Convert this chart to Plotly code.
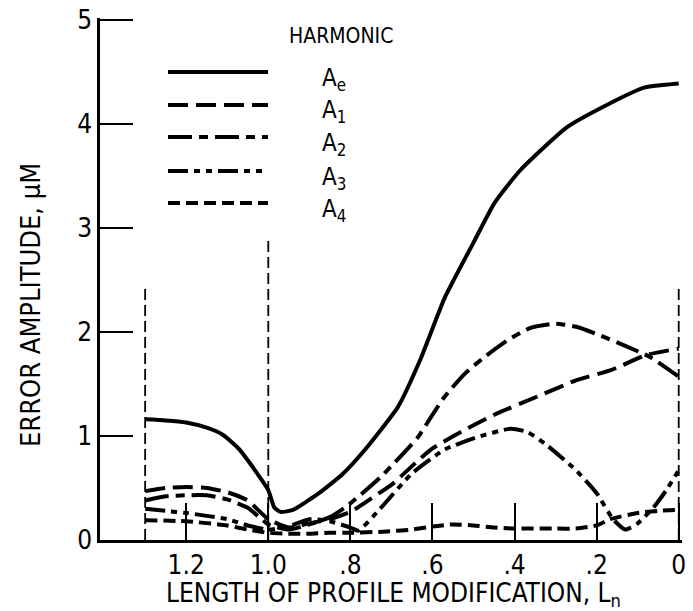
import plotly.graph_objects as go

# ---- data ----
ae_x = [1.30, 1.25, 1.20, 1.15, 1.11, 1.07, 1.045, 1.02, 1.00, 0.985, 0.97, 0.94, 0.88, 0.82, 0.764, 0.684, 0.63, 0.57, 0.50, 0.449, 0.385, 0.272, 0.167, 0.085, 0.0]
ae_y = [1.16, 1.15, 1.13, 1.08, 1.01, 0.87, 0.74, 0.60, 0.48, 0.31, 0.27, 0.29, 0.44, 0.63, 0.87, 1.28, 1.73, 2.33, 2.86, 3.24, 3.56, 3.97, 4.20, 4.35, 4.39]

a1_x = [1.30, 1.25, 1.20, 1.15, 1.10, 1.05, 1.00, 0.95, 0.90, 0.85, 0.80, 0.73, 0.70, 0.604, 0.521, 0.441, 0.344, 0.247, 0.167, 0.078, 0.0]
a1_y = [0.47, 0.50, 0.51, 0.50, 0.46, 0.38, 0.20, 0.12, 0.16, 0.20, 0.27, 0.45, 0.53, 0.87, 1.06, 1.22, 1.38, 1.54, 1.63, 1.78, 1.84]

a2_x = [1.30, 1.25, 1.20, 1.15, 1.10, 1.05, 1.00, 0.95, 0.90, 0.85, 0.81, 0.725, 0.635, 0.604, 0.57, 0.521, 0.473, 0.417, 0.361, 0.30, 0.25, 0.206, 0.126, 0.07, 0.0]
a2_y = [0.38, 0.42, 0.43, 0.43, 0.39, 0.31, 0.15, 0.10, 0.15, 0.22, 0.32, 0.61, 0.99, 1.18, 1.38, 1.60, 1.76, 1.92, 2.04, 2.08, 2.05, 1.99, 1.86, 1.76, 1.57]

a3_x = [1.30, 1.25, 1.20, 1.10, 1.05, 1.00, 0.95, 0.90, 0.85, 0.80, 0.78, 0.73, 0.65, 0.57, 0.49, 0.41, 0.37, 0.327, 0.25, 0.20, 0.16, 0.13, 0.10, 0.06, 0.03, 0.0]
a3_y = [0.30, 0.28, 0.26, 0.20, 0.14, 0.10, 0.13, 0.20, 0.18, 0.12, 0.09, 0.29, 0.64, 0.87, 0.99, 1.07, 1.04, 0.93, 0.67, 0.45, 0.20, 0.10, 0.16, 0.32, 0.48, 0.67]

a4_x = [1.30, 1.20, 1.10, 1.05, 1.00, 0.95, 0.90, 0.85, 0.80, 0.72, 0.65, 0.60, 0.55, 0.50, 0.45, 0.40, 0.30, 0.25, 0.20, 0.167, 0.10, 0.05, 0.0]
a4_y = [0.19, 0.18, 0.14, 0.10, 0.07, 0.06, 0.06, 0.07, 0.07, 0.08, 0.10, 0.13, 0.15, 0.14, 0.12, 0.11, 0.11, 0.11, 0.14, 0.20, 0.26, 0.28, 0.29]

boundary_x = [1.30, 1.00, 0.0]
boundary_top = [2.45, 2.88, 2.45]

x_tickvals = [1.2, 1.0, 0.8, 0.6, 0.4, 0.2, 0.0]
x_ticktext = ["1.2", "1.0", ".8", ".6", ".4", ".2", "0"]
y_tickvals = [0, 1, 2, 3, 4, 5]

series_names = ["A<sub>e</sub>", "A<sub>1</sub>", "A<sub>2</sub>", "A<sub>3</sub>", "A<sub>4</sub>"]
series_x = [ae_x, a1_x, a2_x, a3_x, a4_x]
series_y = [ae_y, a1_y, a2_y, a3_y, a4_y]

# ---- styles ----
dashes = ["solid", "20px,8px", "24px,7px,9px,7px", "20px,6px,6px,6px,6px,6px", "12px,6px"]
FONT = "Liberation Sans Narrow, DejaVu Sans Condensed, Roboto Condensed, Arial Narrow, sans-serif"

fig = go.Figure()

for bx, bt in zip(boundary_x, boundary_top):
    fig.add_trace(go.Scatter(x=[bx, bx], y=[0, bt], mode="lines",
                             line=dict(color="black", width=1.8, dash="11px,5px"),
                             showlegend=False, hoverinfo="skip"))

for nm, xs, ys, d in zip(series_names, series_x, series_y, dashes):
    fig.add_trace(go.Scatter(x=xs, y=ys, mode="lines", name=nm,
                             line=dict(color="black", width=4, dash=d, shape="spline", smoothing=0.5),
                             showlegend=False))

# ---- layout geometry (screen pixels; page body has an 8px margin) ----
OFF = 8
PX_PER_UNIT = 104                        # y pixels per micrometre
L, T, W, H = 100, 18, 582, 522           # plot area on screen (y=0 at 540)
Y_TOP = H / PX_PER_UNIT                  # slightly above 5 so the end tick is kept
FW, FH = 693 - OFF, 611 - OFF            # figure size
def px(xp):
    return (xp - L) / W
def py(yp):
    return (T + H - yp) / H

legend_rows = [72, 105, 137, 171, 203]
for yy, d, nm in zip(legend_rows, dashes, series_names):
    fig.add_shape(type="line", xref="paper", yref="paper",
                  x0=px(168), x1=px(268), y0=py(yy), y1=py(yy),
                  line=dict(color="black", width=4, dash=d))
    fig.add_annotation(xref="paper", yref="paper", x=px(320), y=py(yy + 7),
                       text=nm, showarrow=False, xanchor="left", yanchor="middle",
                       font=dict(family=FONT, size=24, color="black"))

fig.add_annotation(xref="paper", yref="paper", x=px(341), y=py(36),
                   text="HARMONIC", showarrow=False, xanchor="center", yanchor="middle",
                   font=dict(family=FONT, size=21, color="black"))

# axis titles
fig.add_annotation(xref="paper", yref="paper", x=px(393), y=py(576),
                   text="LENGTH OF PROFILE MODIFICATION, L<sub>n</sub>", showarrow=False,
                   xanchor="center", yanchor="top",
                   font=dict(family=FONT, size=26, color="black"))
fig.add_annotation(xref="paper", yref="paper", x=px(30), y=py(305),
                   text="ERROR AMPLITUDE, µM", showarrow=False, textangle=-90,
                   xanchor="center", yanchor="middle",
                   font=dict(family=FONT, size=27, color="black"))

fig.update_layout(
    width=FW, height=FH,
    margin=dict(l=L - OFF, r=FW - (L - OFF) - W, t=T - OFF, b=FH - (T - OFF) - H, autoexpand=False),
    plot_bgcolor="white", paper_bgcolor="white",
    showlegend=False,
    font=dict(family=FONT, size=24, color="black"),
)
fig.update_xaxes(range=[1.41, -0.008], tickvals=x_tickvals, ticktext=x_ticktext,
                 ticks="inside", ticklen=37, tickwidth=2, tickcolor="black",
                 showline=True, linewidth=2.5, linecolor="black",
                 showgrid=False, zeroline=False, automargin=False,
                 ticklabeloverflow="allow",
                 tickfont=dict(family=FONT, size=26, color="black"))
fig.update_yaxes(range=[0, Y_TOP], tickvals=y_tickvals,
                 ticks="inside", ticklen=33, tickwidth=2, tickcolor="black",
                 showline=True, linewidth=2.5, linecolor="black",
                 showgrid=False, zeroline=False, automargin=False,
                 ticklabeloverflow="allow",
                 tickfont=dict(family=FONT, size=26, color="black"))

fig.write_html("out.html")
